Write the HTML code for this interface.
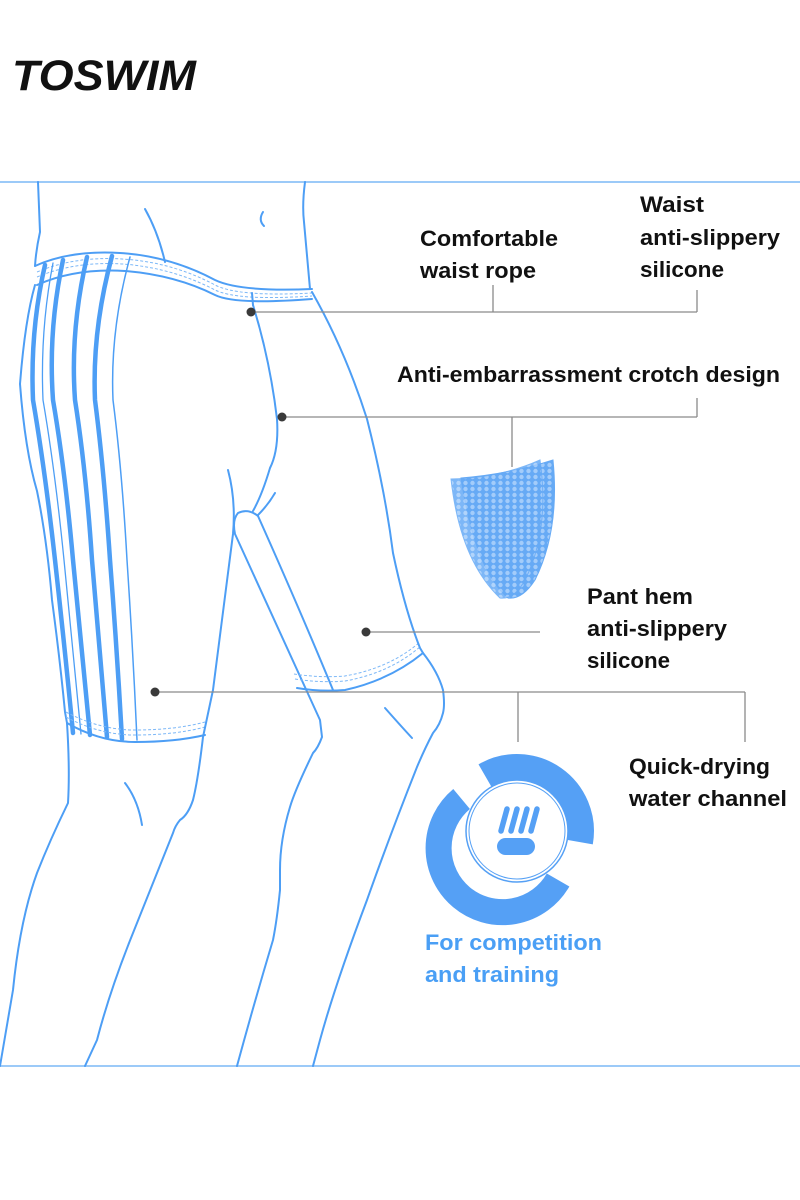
<!DOCTYPE html>
<html><head><meta charset="utf-8"><style>
html,body{margin:0;padding:0;background:#fff;}
svg{display:block;}
.t{font-family:"Liberation Sans",sans-serif;font-weight:bold;font-size:22px;fill:#111;}
.b{font-family:"Liberation Sans",sans-serif;font-weight:bold;font-size:22px;fill:#4a9ff5;}
.o{fill:none;stroke:#4d9ef5;stroke-width:2;stroke-linecap:round;stroke-linejoin:round;}
.d{fill:none;stroke:#7db8f7;stroke-width:1;stroke-dasharray:3 2;}
.s{fill:none;stroke:#4d9ef5;stroke-width:4.5;stroke-linecap:round;}
.c{stroke:#8a8a8a;stroke-width:1.3;fill:none;}
</style></head><body>
<svg width="800" height="1200" viewBox="0 0 800 1200" xmlns="http://www.w3.org/2000/svg">
<defs>
<pattern id="hx" width="7" height="6" patternUnits="userSpaceOnUse">
<rect width="7" height="6" fill="#5aa3f5"/>
<circle cx="3.5" cy="3" r="2.2" fill="#9cc8fa"/>
</pattern>
</defs>
<text x="12" y="90" style="font-family:'Liberation Sans',sans-serif;font-weight:bold;font-style:italic;font-size:43px;fill:#111" textLength="184" lengthAdjust="spacingAndGlyphs">TOSWIM</text>
<line x1="0" y1="182" x2="800" y2="182" stroke="#9ccaf8" stroke-width="2"/>
<line x1="0" y1="1066" x2="800" y2="1066" stroke="#9ccaf8" stroke-width="2"/>

<path class="o" d="M38 182 L40 232 Q36 250 35 266"/>
<path class="o" d="M305 182 Q302 205 304 222 L310 289"/>
<path class="o" d="M145 209 Q158 232 165 262"/>
<path class="o" d="M263 212 Q258 220 264 226"/>
<path class="o" d="M35 266 Q70 250 120 253 Q170 256 215 280 Q240 292 312 289"/>
<path class="o" d="M37 285 Q75 268 125 271 Q175 275 215 295 Q235 305 312 299"/>
<path class="d" d="M37 272 Q75 256 122 259 Q172 262 215 285 Q238 297 312 293"/>
<path class="d" d="M37 277 Q75 261 123 264 Q173 268 215 290 Q238 301 312 296"/>
<path class="o" d="M252 293 L253 305"/>
<path class="o" d="M35 285 Q25 320 20 384 Q25 450 37 491 Q47 540 52 600 Q60 660 65 712 L67 723 Q70 770 68 803 Q50 840 37 873 Q20 920 13 990 L0 1066"/>
<path class="s" d="M45 265 Q30 330 33 400 Q45 470 55 560 Q65 650 73 733"/>
<path class="s" d="M63 260 Q48 330 53 400 Q65 470 73 560 Q82 650 90 735"/>
<path class="s" d="M87 257 Q70 330 75 400 Q86 470 92 560 Q100 650 107 737"/>
<path class="s" d="M112 256 Q92 330 95 400 Q104 470 110 560 Q117 650 122 739"/>
<path class="o" d="M53 263 Q40 330 43 400 Q55 470 64 560 Q73 650 81 734" style="stroke-width:1.3"/>
<path class="o" d="M130 257 Q110 330 113 400 Q122 470 127 560 Q133 650 137 740" style="stroke-width:1.5"/>
<path class="o" d="M67 723 Q100 742 135 742 Q175 742 205 735"/>
<path class="d" d="M66 712 Q100 730 135 730 Q175 730 205 722"/>
<path class="d" d="M66 717 Q100 735 135 735 Q175 735 205 727"/>
<path class="o" d="M228 470 Q236 500 233 534 Q222 620 213 690 L203 737 Q198 780 193 800 Q188 815 180 820 Q175 826 173 833 Q150 890 133 933 Q110 990 97 1040 L85 1066"/>
<path class="o" d="M125 783 Q138 800 142 825"/>
<path class="o" d="M253 305 Q270 360 277 419 Q279 450 270 468 Q262 495 253 511"/>
<path class="o" d="M275 493 Q268 505 258 515"/>
<path class="o" d="M258 516 Q248 508 238 513 Q232 520 235 534 Q270 610 320 720 L322 737 Q318 748 313 753 Q295 790 290 807 Q280 840 280 870 L280 890 Q277 920 273 940 Q255 1000 237 1066"/>
<path class="o" d="M258 516 Q300 610 333 690"/>
<path class="o" d="M297 688 Q320 692 345 690 Q390 680 423 653"/>
<path class="d" d="M294 674 Q320 678 345 676 Q390 668 420 642"/>
<path class="d" d="M295 679 Q320 683 345 681 Q390 673 421 646"/>
<path class="o" d="M312 292 Q345 350 367 419 Q385 490 393 553 Q405 610 420 648 L423 653 Q438 672 443 690 Q445 705 443 713 Q440 725 433 733 Q425 748 417 767 Q390 835 367 900 Q335 985 320 1040 L313 1066"/>
<path class="o" d="M385 708 Q400 725 412 738"/>

<g class="c">
<line x1="251" y1="312" x2="697" y2="312"/>
<line x1="493" y1="285" x2="493" y2="312"/>
<line x1="697" y1="290" x2="697" y2="312"/>
<line x1="282" y1="417" x2="697" y2="417"/>
<line x1="697" y1="398" x2="697" y2="417"/>
<line x1="512" y1="417" x2="512" y2="467"/>
<line x1="366" y1="632" x2="540" y2="632"/>
<line x1="155" y1="692" x2="745" y2="692"/>
<line x1="518" y1="692" x2="518" y2="742"/>
<line x1="745" y1="692" x2="745" y2="742"/>
</g>
<g fill="#3a3a3a">
<circle cx="251" cy="312" r="4.5"/><circle cx="282" cy="417" r="4.5"/>
<circle cx="366" cy="632" r="4.5"/><circle cx="155" cy="692" r="4.5"/>
</g>

<g opacity="0.92">
<path d="M461 478 Q510 474 553 460 Q560 530 535 580 Q522 600 508 598 Q475 570 461 478Z" fill="url(#hx)" stroke="#5aa3f5"/>
<path d="M451 479 Q500 478 540 460 Q550 530 525 580 Q514 600 500 598 Q460 560 451 479Z" fill="url(#hx)" stroke="#5aa3f5" opacity="0.85"/>
</g>

<g transform="translate(517,831)">
<path d="M-32.0 -55.4 A64 64 0 0 1 63.0 11.1" fill="none" stroke="#55a0f5" stroke-width="26"/>
<path d="M41.1 49.0 A64 64 0 1 1 -55.4 -32.0" fill="none" stroke="#55a0f5" stroke-width="26"/>
<circle r="51" fill="#fff" stroke="#55a0f5" stroke-width="1.5"/>
<circle r="48" fill="none" stroke="#55a0f5" stroke-width="1"/>
<g stroke="#55a0f5" stroke-width="5.5" stroke-linecap="round">
<line x1="-10" y1="-22" x2="-16" y2="0"/>
<line x1="0" y1="-22" x2="-6" y2="0"/>
<line x1="10" y1="-22" x2="4" y2="0"/>
<line x1="20" y1="-22" x2="14" y2="0"/>
</g>
<rect x="-20" y="7" width="38" height="17" rx="8.5" fill="#55a0f5"/>
</g>

<text class="t" x="420" y="246" textLength="138" lengthAdjust="spacingAndGlyphs">Comfortable</text>
<text class="t" x="420" y="278" textLength="116" lengthAdjust="spacingAndGlyphs">waist rope</text>
<text class="t" x="640" y="212" textLength="64" lengthAdjust="spacingAndGlyphs">Waist</text>
<text class="t" x="640" y="245" textLength="140" lengthAdjust="spacingAndGlyphs">anti-slippery</text>
<text class="t" x="640" y="277" textLength="84" lengthAdjust="spacingAndGlyphs">silicone</text>
<text class="t" x="397" y="382" textLength="383" lengthAdjust="spacingAndGlyphs">Anti-embarrassment crotch design</text>
<text class="t" x="587" y="604" textLength="106" lengthAdjust="spacingAndGlyphs">Pant hem</text>
<text class="t" x="587" y="636" textLength="140" lengthAdjust="spacingAndGlyphs">anti-slippery</text>
<text class="t" x="587" y="668" textLength="83" lengthAdjust="spacingAndGlyphs">silicone</text>
<text class="t" x="629" y="774" textLength="141" lengthAdjust="spacingAndGlyphs">Quick-drying</text>
<text class="t" x="629" y="806" textLength="158" lengthAdjust="spacingAndGlyphs">water channel</text>
<text class="b" x="425" y="950" textLength="177" lengthAdjust="spacingAndGlyphs">For competition</text>
<text class="b" x="425" y="982" textLength="134" lengthAdjust="spacingAndGlyphs">and training</text>
</svg>
</body></html>
